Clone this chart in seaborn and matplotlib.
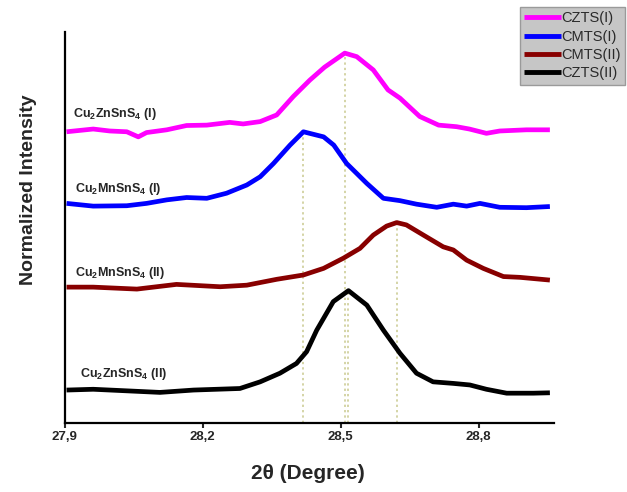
import matplotlib
matplotlib.use("Agg")
import matplotlib.pyplot as plt
import seaborn as sns
import numpy as np
import pandas as pd

# Valeurs (2theta en degrés, intensité normalisée avec décalage)
czts1_x = [27.904, 27.962, 27.998, 28.035, 28.060, 28.078, 28.122, 28.165, 28.209, 28.259,
           28.288, 28.325, 28.361, 28.397, 28.433, 28.465, 28.509, 28.535, 28.571, 28.603,
           28.629, 28.672, 28.713, 28.752, 28.780, 28.817, 28.846, 28.904, 28.955]
czts1_y = [0.745, 0.752, 0.747, 0.745, 0.732, 0.743, 0.750, 0.761, 0.762, 0.769,
           0.765, 0.771, 0.788, 0.835, 0.877, 0.910, 0.946, 0.937, 0.903, 0.852,
           0.831, 0.784, 0.762, 0.758, 0.752, 0.741, 0.747, 0.750, 0.750]

cmts1_x = [27.904, 27.962, 28.035, 28.078, 28.122, 28.165, 28.209, 28.252, 28.296, 28.325,
           28.354, 28.390, 28.419, 28.463, 28.485, 28.513, 28.557, 28.593, 28.629, 28.665,
           28.709, 28.745, 28.774, 28.803, 28.846, 28.904, 28.955]
cmts1_y = [0.562, 0.555, 0.556, 0.562, 0.571, 0.577, 0.575, 0.588, 0.609, 0.630,
           0.664, 0.711, 0.745, 0.732, 0.711, 0.664, 0.613, 0.575, 0.569, 0.560,
           0.552, 0.560, 0.555, 0.562, 0.552, 0.551, 0.554]

cmts2_x = [27.904, 27.962, 28.057, 28.143, 28.238, 28.296, 28.361, 28.419, 28.463, 28.506,
           28.542, 28.571, 28.600, 28.622, 28.643, 28.680, 28.723, 28.745, 28.774, 28.810,
           28.854, 28.890, 28.955]
cmts2_y = [0.348, 0.348, 0.343, 0.355, 0.349, 0.353, 0.368, 0.379, 0.396, 0.422,
           0.447, 0.481, 0.504, 0.513, 0.507, 0.481, 0.451, 0.443, 0.417, 0.396,
           0.375, 0.373, 0.366]

czts2_x = [27.904, 27.962, 28.035, 28.107, 28.180, 28.281, 28.325, 28.368, 28.404, 28.426,
           28.448, 28.484, 28.517, 28.557, 28.593, 28.629, 28.665, 28.701, 28.745, 28.781,
           28.817, 28.861, 28.919, 28.955]
czts2_y = [0.085, 0.087, 0.083, 0.079, 0.085, 0.089, 0.106, 0.128, 0.153, 0.183,
           0.238, 0.311, 0.339, 0.302, 0.238, 0.179, 0.128, 0.106, 0.102, 0.098,
           0.087, 0.077, 0.077, 0.078]

legend_names = ["CZTS(I)", "CMTS(I)", "CMTS(II)", "CZTS(II)"]
curve_labels = [r"Cu$_2$ZnSnS$_4$ (I)", r"Cu$_2$MnSnS$_4$ (I)",
                r"Cu$_2$MnSnS$_4$ (II)", r"Cu$_2$ZnSnS$_4$ (II)"]
label_x = [27.918, 27.922, 27.922, 27.933]
label_y = [0.782, 0.592, 0.376, 0.118]
colors = ["#ff00ff", "#0000ff", "#880000", "#000000"]
xticks = [27.9, 28.2, 28.5, 28.8]
xtick_labels = ["27,9", "28,2", "28,5", "28,8"]

sns.set_style("white")
plt.rcParams["font.family"] = ["Liberation Sans", "DejaVu Sans"]
plt.rcParams["mathtext.fontset"] = "custom"
plt.rcParams["mathtext.rm"] = "Liberation Sans:bold"
plt.rcParams["mathtext.bf"] = "Liberation Sans:bold"
plt.rcParams["mathtext.default"] = "bf"

all_x = [czts1_x, cmts1_x, cmts2_x, czts2_x]
all_y = [czts1_y, cmts1_y, cmts2_y, czts2_y]
df = pd.concat([pd.DataFrame({"theta": xs, "intensity": ys, "sample": name})
                for xs, ys, name in zip(all_x, all_y, legend_names)], ignore_index=True)

fig = plt.figure(figsize=(6.27, 4.92), dpi=100)
ax = fig.add_axes([0.1032, 0.1396, 0.7804, 0.7954])

sns.lineplot(data=df, x="theta", y="intensity", hue="sample", hue_order=legend_names,
             palette=colors, lw=3.4, sort=False, ax=ax,
             solid_joinstyle="round", solid_capstyle="butt")

# lignes pointillées aux maxima
for xs, ys in zip(all_x, all_y):
    i = int(np.argmax(ys))
    ax.vlines(xs[i], 0, ys[i], colors="#c9c98e", linestyles=(0, (1.5, 2)), lw=1.1, zorder=1)

for txt, tx, ty in zip(curve_labels, label_x, label_y):
    ax.text(tx, ty, txt, fontsize=9, fontweight="bold", va="baseline", ha="left")

ax.set_xlim(27.9, 28.964)
ax.set_ylim(0, 1)
ax.set_xticks(xticks)
ax.set_xticklabels(xtick_labels, fontsize=9.5, fontweight="bold")
ax.set_yticks([])
ax.tick_params(axis="x", direction="out", length=3.5, width=1.5, pad=2, bottom=True)
for side in ["top", "right"]:
    ax.spines[side].set_visible(False)
for side in ["left", "bottom"]:
    ax.spines[side].set_linewidth(1.6)
    ax.spines[side].set_color("black")

ax.set_xlabel("2θ (Degree)", fontsize=15, fontweight="bold")
ax.set_ylabel("Normalized Intensity", fontsize=14, fontweight="bold")
ax.xaxis.set_label_coords(0.497, -0.105)
ax.yaxis.set_label_coords(-0.057, 0.596)

handles, labels = ax.get_legend_handles_labels()
leg = ax.legend(handles, labels, loc="upper right", bbox_to_anchor=(0.997, 0.986),
                bbox_transform=fig.transFigure, fontsize=10.5, frameon=True, fancybox=False,
                facecolor="#c6c6c6", edgecolor="#9a9a9a", framealpha=1,
                handlelength=2.5, handletextpad=0.05, labelspacing=0.3,
                borderpad=0.3, borderaxespad=0)
for line in leg.get_lines():
    line.set_linewidth(3.5)
for t in leg.get_texts():
    t.set_color("#2a2a2a")

fig.savefig("out.png", dpi=100)
